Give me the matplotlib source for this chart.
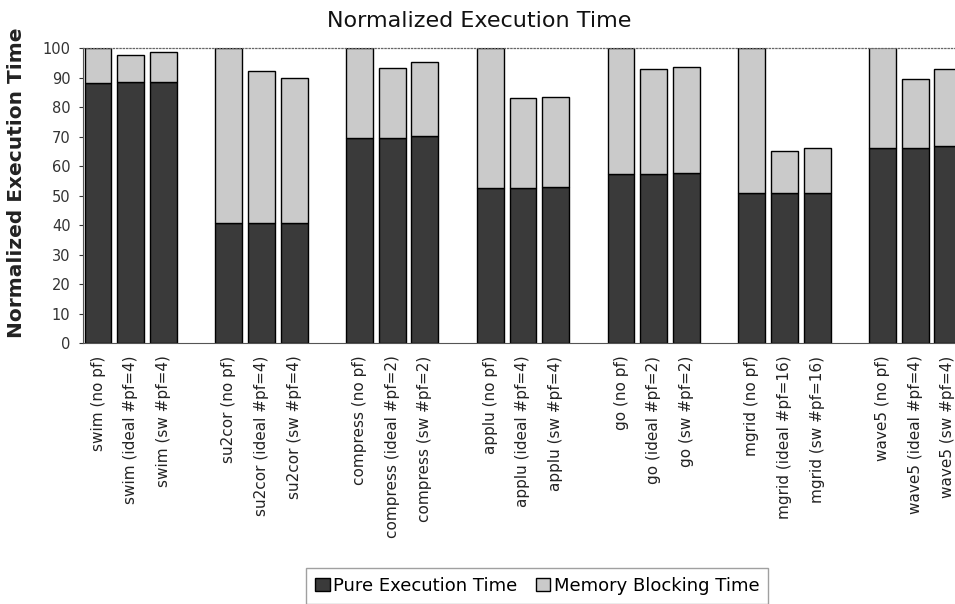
import matplotlib
matplotlib.use("Agg")
import matplotlib.pyplot as plt
from matplotlib.patches import Patch

plt.rcParams['font.family'] = ['DejaVu Sans']

benchmarks = ["swim", "su2cor", "compress", "applu", "go", "mgrid", "wave5"]
variants = [
    ["no pf", "ideal #pf=4", "sw #pf=4"],
    ["no pf", "ideal #pf=4", "sw #pf=4"],
    ["no pf", "ideal #pf=2", "sw #pf=2"],
    ["no pf", "ideal #pf=4", "sw #pf=4"],
    ["no pf", "ideal #pf=2", "sw #pf=2"],
    ["no pf", "ideal #pf=16", "sw #pf=16"],
    ["no pf", "ideal #pf=4", "sw #pf=4"],
]
pure = [
    [88.0, 88.5, 88.5],
    [40.8, 40.8, 40.8],
    [69.5, 69.5, 70.3],
    [52.4, 52.4, 52.9],
    [57.4, 57.4, 57.8],
    [51.0, 50.7, 50.7],
    [66.2, 66.2, 66.7],
]
total = [
    [100.0, 97.7, 98.6],
    [100.0, 92.3, 90.0],
    [100.0, 93.2, 95.4],
    [100.0, 83.0, 83.5],
    [100.0, 92.8, 93.6],
    [100.0, 65.2, 66.2],
    [100.3, 89.4, 92.8],
]

dark = "#3a3a3a"
light = "#cacaca"

fig = plt.figure(figsize=(9.55, 6.04), dpi=100)
ax = fig.add_axes([0.0869, 0.432, 0.957, 0.4885])

positions, labels, p_vals, m_vals = [], [], [], []
for g, b in enumerate(benchmarks):
    for k in range(3):
        positions.append(g * 4 + k)
        labels.append(f"{b} ({variants[g][k]})")
        p_vals.append(pure[g][k])
        m_vals.append(total[g][k] - pure[g][k])

bw = 0.82
ax.bar(positions, p_vals, width=bw, color=dark, edgecolor="black", linewidth=1.0)
ax.bar(positions, m_vals, bottom=p_vals, width=bw, color=light, edgecolor="black", linewidth=1.0)

ax.set_xlim(-0.46, 27.5)
ax.set_ylim(0, 100)
ax.set_yticks(range(0, 101, 10))
ax.tick_params(axis='y', direction='out', length=3, width=0.8, labelsize=10.5,
               colors="#333333", pad=6)
ax.set_xticks(positions)
ax.set_xticklabels(labels, rotation=90, fontsize=11, color="#222222")
ax.tick_params(axis='x', length=0, pad=9)

ax.spines["right"].set_visible(False)
ax.spines["top"].set_linestyle(":")
ax.spines["top"].set_color("#666666")
ax.spines["top"].set_linewidth(0.9)
ax.spines["left"].set_color("#555555")
ax.spines["bottom"].set_color("#555555")

ax.set_ylabel("Normalized Execution Time", fontsize=14.5, fontweight="bold",
              color="#222222")
ax.yaxis.set_label_coords(-0.062, 0.543)
fig.text(0.502, 0.966, "Normalized Execution Time", ha="center", va="center",
         fontsize=16, color="#111111")

handles = [Patch(facecolor=dark, edgecolor="black", label="Pure Execution Time"),
           Patch(facecolor=light, edgecolor="black", label="Memory Blocking Time")]
leg = fig.legend(handles=handles, loc="upper center", bbox_to_anchor=(0.5625, 0.075),
                 ncol=2, fontsize=13, frameon=True, fancybox=False, edgecolor="#888888",
                 handlelength=0.8, handleheight=0.8, handletextpad=0.2, columnspacing=1.0,
                 borderpad=0.5)

fig.savefig("out.png", dpi=100)
